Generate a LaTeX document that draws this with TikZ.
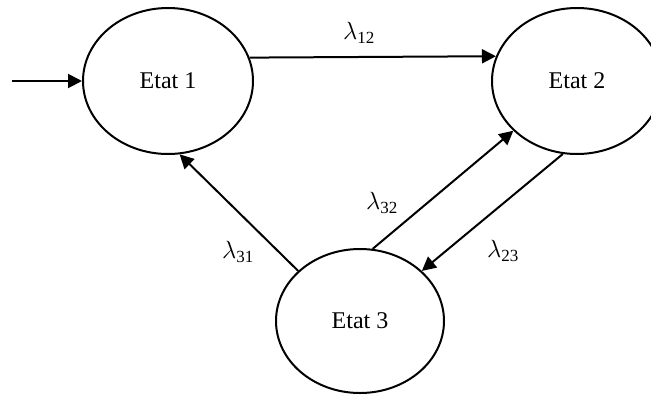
\documentclass[tikz,border=0pt]{standalone}
\usepackage{fontspec}
\setmainfont{Liberation Serif}
\usetikzlibrary{shapes.geometric,arrows.meta}
\newcommand{\lamsub}[1]{$\lambda_{\mbox{\fontsize{17}{20}\selectfont #1}}$}
\tikzset{
  state/.style={ellipse, draw, line width=2pt, minimum width=170pt, minimum height=146pt, inner sep=0pt, font=\fontsize{24}{28}\selectfont},
  trans/.style={line width=2pt, -{Triangle[length=14pt,width=14pt]}},
  lab/.style={font=\fontsize{25}{30}\selectfont, inner sep=0pt}
}
\begin{document}
\begin{tikzpicture}[x=1pt,y=-1pt]
\useasboundingbox (0,0) rectangle (651,394);
\clip (0,0) rectangle (651,394);
\fill[white] (0,0) rectangle (651,394);
\node[state] (e1) at (168,81) {Etat 1};
\node[state] (e2) at (577,81) {Etat 2};
\node[state, minimum width=168pt, minimum height=144pt] (e3) at (360,321) {Etat 3};
\coordinate (start) at (12,81);
\draw[trans] (start) -- (e1.west);
\draw[trans] (e1.16.6) -- (e2.163.4);
\draw[trans] (e3.141.1) -- (e1.279.5);
\draw[trans] (e3.80.5) -- (e2.218.6);
\draw[trans] (e2.259) -- (e3.39.3);
\node[lab] (l12) at (359,33) {\lamsub{12}};
\node[lab] (l31) at (238,252) {\lamsub{31}};
\node[lab] (l32) at (382,203) {\lamsub{32}};
\node[lab] (l23) at (503,251) {\lamsub{23}};
\end{tikzpicture}
\end{document}
